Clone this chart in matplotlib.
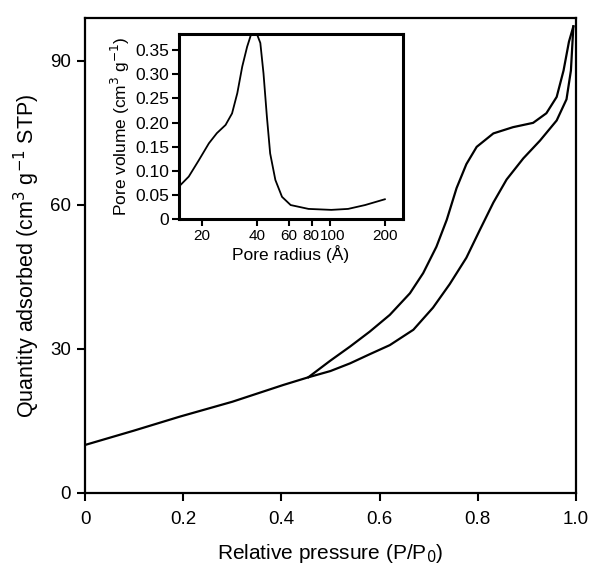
import matplotlib.pyplot as plt
import matplotlib.transforms as mtransforms
import numpy as np

plt.rcParams['font.family'] = ['Liberation Sans', 'DejaVu Sans']

# N2 isotherm, adsorption branch (lower)
p_ads = [0.0, 0.05, 0.10, 0.193, 0.30, 0.404, 0.455, 0.50, 0.54, 0.58, 0.621, 0.669,
         0.709, 0.743, 0.777, 0.804, 0.832, 0.859, 0.893, 0.927, 0.961, 0.981,
         0.990, 0.995]
q_ads = [10.0, 11.5, 13.0, 15.9, 19.0, 22.5, 24.1, 25.4, 27.0, 28.9, 30.8, 34.0,
         38.6, 43.5, 49.0, 54.7, 60.5, 65.3, 69.7, 73.4, 77.6, 82.0,
         88.0, 97.2]
# desorption branch (upper)
p_des = [0.455, 0.499, 0.540, 0.580, 0.621, 0.662, 0.689, 0.716, 0.737, 0.757,
         0.777, 0.798, 0.832, 0.872, 0.913, 0.940, 0.961, 0.975, 0.986, 0.995]
q_des = [24.1, 27.5, 30.5, 33.6, 37.1, 41.6, 45.8, 51.3, 56.9, 63.5,
         68.5, 72.1, 74.9, 76.2, 77.1, 79.1, 82.5, 88.0, 94.0, 97.2]

# pore size distribution (inset)
radius = [15.0, 17.0, 19.3, 21.9, 24.2, 27.0, 29.3, 31.3, 33.3, 35.4, 37.3, 38.6,
          40.0, 41.8, 43.5, 45.4, 47.3, 50.5, 54.9, 61.2, 76.6, 102, 126, 156, 200]
pore_vol = [0.067, 0.088, 0.122, 0.157, 0.178, 0.195, 0.219, 0.261, 0.316, 0.357, 0.384, 0.39,
            0.384, 0.365, 0.302, 0.212, 0.136, 0.081, 0.046, 0.029, 0.021, 0.019, 0.021, 0.029, 0.041]
radius_ticks = [20, 40, 60, 80, 100, 200]

fig = plt.figure(figsize=(6, 5.81), dpi=100)
ax = fig.add_axes([0.1417, 0.1515, 0.818, 0.818])
ax.plot(p_ads, q_ads, color='black', lw=1.6)
ax.plot(p_des, q_des, color='black', lw=1.6)
ax.set_xlim(0, 1.0)
ax.set_ylim(0, 99)
ax.set_xticks([0, 0.2, 0.4, 0.6, 0.8, 1.0])
ax.set_xticklabels(['0', '0.2', '0.4', '0.6', '0.8', '1.0'])
ax.set_yticks([0, 30, 60, 90])
ax.tick_params(direction='out', length=6, width=1.5, labelsize=13.5,
               colors='black', pad=4)
ax.tick_params(axis='x', pad=7)
for s in ax.spines.values():
    s.set_linewidth(1.6)
ax.set_xlabel('Relative pressure (P/P$_0$)', fontsize=15, labelpad=10)
ax.set_ylabel('Quantity adsorbed (cm$^3$ g$^{-1}$ STP)', fontsize=15.5, labelpad=6)

ins = fig.add_axes([0.298, 0.623, 0.373, 0.318])
ins.plot(radius, pore_vol, color='black', lw=1.3)
ins.set_xscale('log')
ins.set_xlim(15, 250)
ins.set_ylim(0, 0.383)
ins.set_xticks(radius_ticks)
ins.set_xticklabels([str(r) for r in radius_ticks])
ins.xaxis.set_minor_locator(plt.NullLocator())
ins.set_yticks([0, 0.05, 0.10, 0.15, 0.20, 0.25, 0.30, 0.35])
ins.set_yticklabels(['0', '0.05', '0.10', '0.15', '0.20', '0.25', '0.30', '0.35'])
ins.tick_params(direction='out', length=5, width=1.5, labelsize=12.5, pad=2)
ins.tick_params(axis='x', labelsize=11)
for s in ins.spines.values():
    s.set_linewidth(2.2)
ins.set_xlabel('Pore radius (Å)', fontsize=12.5, labelpad=2)
ins.set_ylabel('Pore volume (cm$^3$ g$^{-1}$)', fontsize=12.5, labelpad=2)

# nudge the crowded 80 / 100 labels apart a little
shifts = {'80': -1.5, '100': 3.0}
for lab in ins.get_xticklabels():
    dx = shifts.get(lab.get_text(), 0)
    if dx:
        lab.set_transform(lab.get_transform() +
                          mtransforms.ScaledTranslation(dx / 100, 0, fig.dpi_scale_trans))

fig.savefig('out.png', dpi=100)
